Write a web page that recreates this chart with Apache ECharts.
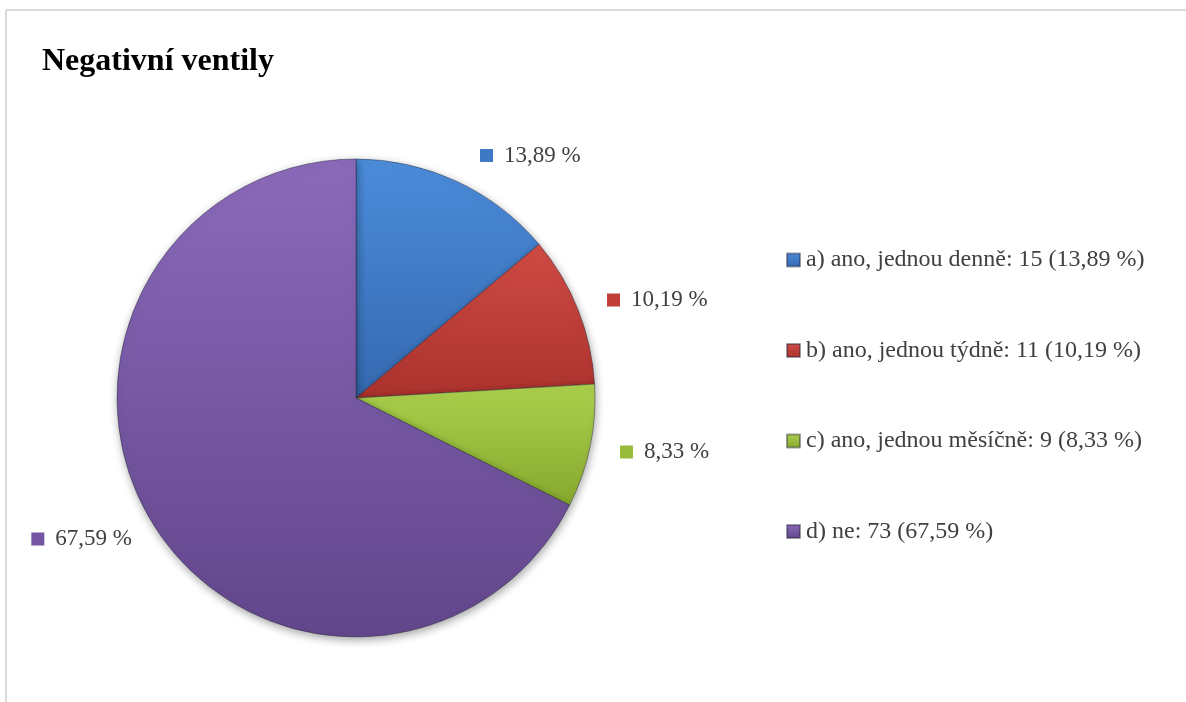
<!DOCTYPE html>
<html><head><meta charset="utf-8">
<script src="https://cdn.jsdelivr.net/npm/echarts@6/dist/echarts.min.js"></script>
<style>html,body{margin:0;padding:0;background:#fff}#c{width:1186px;height:702px}</style>
</head><body><div id="c"></div>
<script>
// ---- data ----
const chartTitle = 'Negativní ventily';
const categories = ['a) ano, jednou denně', 'b) ano, jednou týdně', 'c) ano, jednou měsíčně', 'd) ne'];
const counts = [15, 11, 9, 73];

// ---- styles ----
const colorsTop = ['#4b8cda', '#d04b45', '#abd04c', '#8b6abb'];
const colorsBottom = ['#3569b0', '#ab322d', '#86a82e', '#62468b'];
const markerColors = ['#3f78c4', '#c13d38', '#98bb3c', '#7455a3'];
const labelLen = [28.6, 26.4, 28, 29.6];
const labelLen2 = [10.9, 4.4, 2.5, -4.6];
const FONT = "'Liberation Serif','Times New Roman',serif";
const TXT = '#404040';

const total = counts.reduce((a, b) => a + b, 0);
const pct = counts.map(v => (v / total * 100).toFixed(2).replace('.', ',') + ' %');

const data = categories.map((name, i) => ({
  name,
  value: counts[i],
  itemStyle: {
    color: new echarts.graphic.LinearGradient(0, 0, 0, 1, [
      { offset: 0, color: colorsTop[i] },
      { offset: 1, color: colorsBottom[i] }
    ])
  },
  labelLine: { show: false, length: labelLen[i], length2: labelLen2[i] },
  label: {
    formatter: '{m|}{t|' + pct[i] + '}',
    rich: {
      m: { width: 13, height: 13, backgroundColor: markerColors[i] },
      t: { fontSize: 23, fontFamily: FONT, color: TXT, padding: [0, 0, 0, 11] }
    }
  }
}));

const chart = echarts.init(document.getElementById('c'), null, { renderer: 'canvas' });
chart.setOption({
  animation: false,
  backgroundColor: '#ffffff',
  title: {
    text: chartTitle,
    left: 37, top: 41,
    textStyle: { fontFamily: FONT, fontSize: 32, fontWeight: 'bold', color: '#000' }
  },
  graphic: [
    { type: 'line', shape: { x1: 6, y1: 10, x2: 1186, y2: 10 }, style: { stroke: '#d9d9d9', lineWidth: 2 }, silent: true },
    { type: 'line', shape: { x1: 6, y1: 10, x2: 6, y2: 702 }, style: { stroke: '#d9d9d9', lineWidth: 2 }, silent: true }
  ],
  legend: {
    orient: 'vertical',
    left: 781, top: 243,
    itemWidth: 13, itemHeight: 13,
    itemGap: 66.5,
    icon: 'rect',
    data: categories,
    formatter: name => {
      const i = categories.indexOf(name);
      return name + ': ' + counts[i] + ' (' + pct[i] + ')';
    },
    textStyle: { fontFamily: FONT, fontSize: 24, color: TXT, lineHeight: 24, padding: [0, 0, 0, 1] }
  },
  series: [{
    type: 'pie',
    center: [356, 398],
    radius: 239,
    startAngle: 90,
    clockwise: true,
    avoidLabelOverlap: false,
    itemStyle: {
      borderColor: 'rgba(40,40,60,0.45)', borderWidth: 1,
      shadowBlur: 8, shadowOffsetX: 1, shadowOffsetY: 3, shadowColor: 'rgba(0,0,0,0.35)'
    },
    label: { show: true, position: 'outside', distanceToLabelLine: 0 },
    emphasis: { disabled: true },
    data
  }]
});
</script>
</body></html>
